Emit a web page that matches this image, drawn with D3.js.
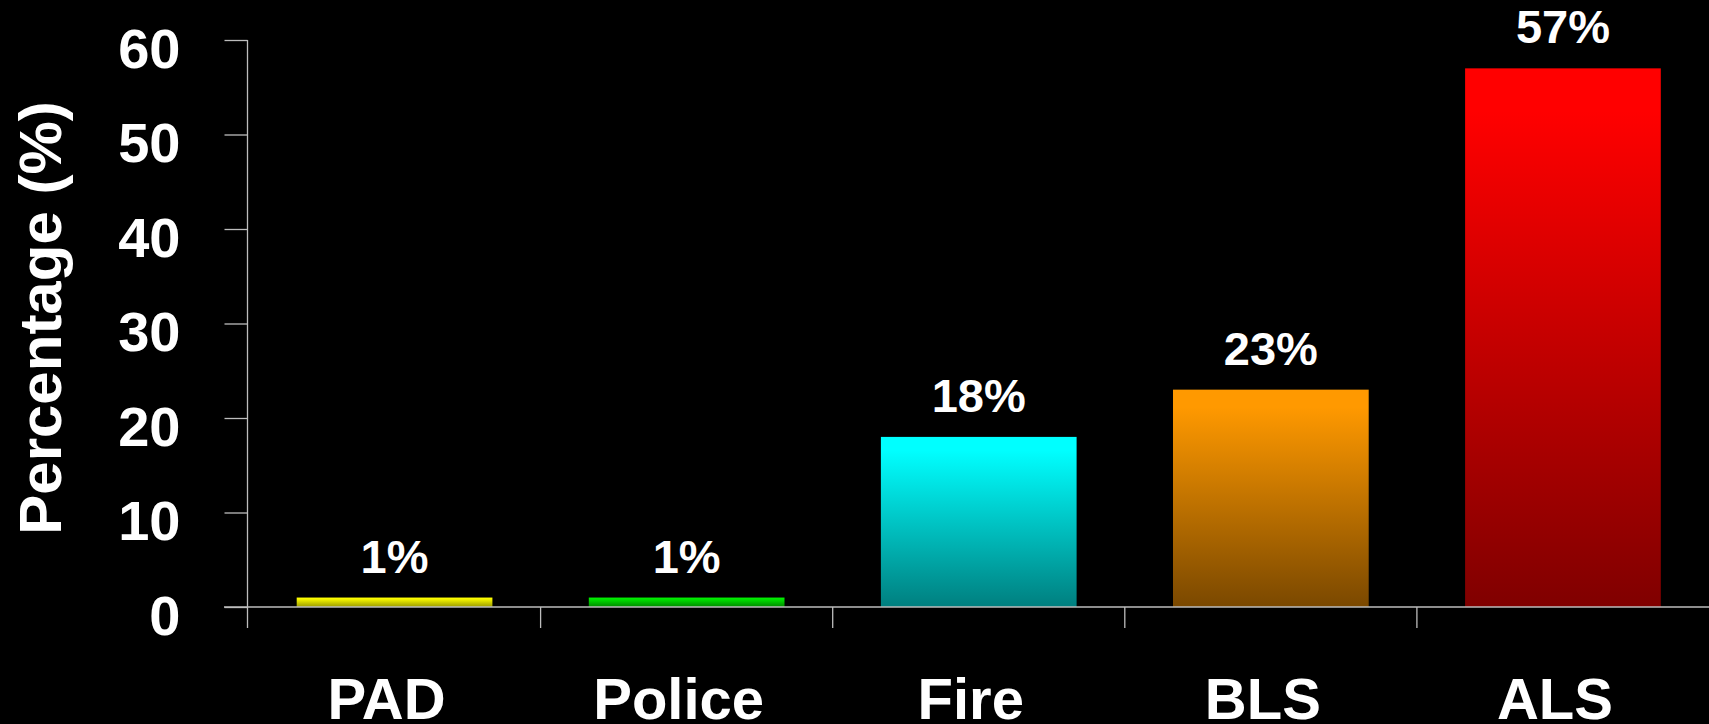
<!DOCTYPE html>
<html>
<head>
<meta charset="utf-8">
<script src="https://cdn.jsdelivr.net/npm/d3@7"></script>
<style>
  html, body { margin: 0; padding: 0; background: #000; }
  svg { display: block; }
  text { font-family: "Liberation Sans", Arial, sans-serif; font-weight: bold; fill: #fff; }
</style>
</head>
<body>
<svg id="chart" width="1709" height="724"></svg>
<script>
// ---- data ----
const categories = ["PAD", "Police", "Fire", "BLS", "ALS"];
const values = [1, 1, 18, 23, 57];
const valueLabels = ["1%", "1%", "18%", "23%", "57%"];
const yTicks = [0, 10, 20, 30, 40, 50, 60];
const yTitle = "Percentage (%)";

// ---- style ----
const topColors = ["#ffff00", "#00ee00", "#00ffff", "#ff9900", "#ff0000"];
const bottomColors = ["#999900", "#008800", "#007f7f", "#7a4800", "#800000"];

const W = 1709, H = 724;
const svg = d3.select("#chart");
svg.append("rect").attr("width", W).attr("height", H).attr("fill", "#000");

const x = d3.scaleBand().domain(categories).range([248.5, 1709])
  .paddingInner(0.33).paddingOuter(0.165);
const y = d3.scaleLinear().domain([0, 60]).range([607, 40]);

const defs = svg.append("defs");
categories.forEach((c, i) => {
  const g = defs.append("linearGradient").attr("id", "grad" + i)
    .attr("x1", 0).attr("y1", 0).attr("x2", 0).attr("y2", 1);
  g.append("stop").attr("offset", "0%").attr("stop-color", topColors[i]);
  g.append("stop").attr("offset", "8%").attr("stop-color", topColors[i]);
  g.append("stop").attr("offset", "100%").attr("stop-color", bottomColors[i]);
});

// bars
svg.append("g").selectAll("rect").data(categories).join("rect")
  .attr("x", d => x(d))
  .attr("y", (d, i) => y(values[i]))
  .attr("width", x.bandwidth())
  .attr("height", (d, i) => y(0) - y(values[i]))
  .attr("fill", (d, i) => `url(#grad${i})`);

// value labels
svg.append("g").selectAll("text").data(categories).join("text")
  .attr("x", d => x(d) + x.bandwidth() / 2)
  .attr("y", (d, i) => y(values[i]) - 25)
  .attr("text-anchor", "middle")
  .attr("font-size", 47)
  .text((d, i) => valueLabels[i]);

const axisColor = "#bdbdbd";

// y axis
const yAxis = svg.append("g").attr("transform", `translate(247.5,0)`)
  .call(d3.axisLeft(y).tickValues(yTicks).tickSize(23).tickSizeOuter(0).tickPadding(44));
yAxis.selectAll("line").attr("stroke", axisColor).attr("stroke-width", 1.3);
yAxis.select(".domain").remove();
yAxis.selectAll("text").attr("font-size", 56).attr("dy", "27px")
  .style("font-family", '"Liberation Sans", Arial, sans-serif').style("font-weight", "bold").attr("fill", "#fff");
yAxis.append("line").attr("x1", 0).attr("x2", 0).attr("y1", y(60)).attr("y2", 628)
  .attr("stroke", axisColor).attr("stroke-width", 1.3);

// x axis
const step = x.step();
const xAxis = svg.append("g").attr("transform", `translate(0,${y(0)})`)
  .call(d3.axisBottom(x).tickSize(0).tickPadding(71));
xAxis.select(".domain").remove();
xAxis.selectAll("text").attr("font-size", 58).attr("dx", -8)
  .style("font-family", '"Liberation Sans", Arial, sans-serif').style("font-weight", "bold").attr("fill", "#fff");
xAxis.append("line").attr("x1", 224).attr("x2", W).attr("y1", 0).attr("y2", 0)
  .attr("stroke", axisColor).attr("stroke-width", 1.3);
xAxis.selectAll(".bound").data(categories.slice(1)).join("line").attr("class", "bound")
  .attr("x1", d => x(d) - step * x.paddingInner() / 2)
  .attr("x2", d => x(d) - step * x.paddingInner() / 2)
  .attr("y1", 0).attr("y2", 21)
  .attr("stroke", axisColor).attr("stroke-width", 1.3);

// y title
svg.append("text")
  .attr("transform", "translate(61,318) rotate(-90)")
  .attr("text-anchor", "middle")
  .attr("font-size", 60)
  .text(yTitle);
</script>
</body>
</html>
